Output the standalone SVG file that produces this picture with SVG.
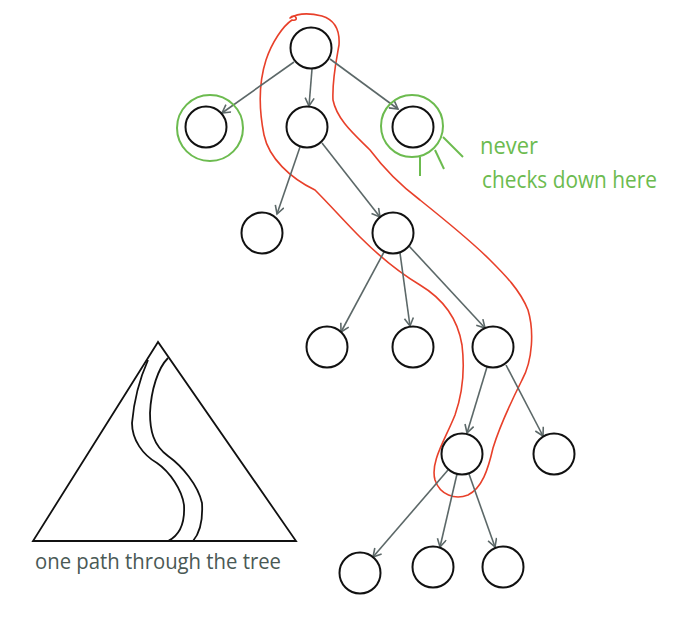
<svg xmlns="http://www.w3.org/2000/svg" width="698" height="618" viewBox="0 0 698 618">
<style>
.node{fill:#fff;stroke:#111;stroke-width:2}
.halo{fill:none;stroke:#6cbb4f;stroke-width:2}
.edge{fill:none;stroke:#5c6868;stroke-width:1.6;marker-end:url(#arr)}
.tick{stroke:#6cbb4f;stroke-width:2}
.red{fill:none;stroke:#e8402a;stroke-width:1.6;stroke-linejoin:round}
.blk{fill:none;stroke:#111;stroke-width:1.8}
.gtxt{font-family:"Open Sans","Liberation Sans",sans-serif;font-size:23px;fill:#6cbb4f}
.dtxt{font-family:"Open Sans","Liberation Sans",sans-serif;font-size:21px;fill:#4a5955}
</style>
<defs>
<marker id="arr" markerUnits="userSpaceOnUse" markerWidth="12" markerHeight="12" refX="9" refY="5" orient="auto">
<path d="M1,0.5 L9,5 L1,9.5" fill="none" stroke="#5c6868" stroke-width="1.6"/>
</marker>
</defs>
<rect width="698" height="618" fill="#fff"/>

<path class="red" d="M290,18 C295,12 300,22 292,20 C283,26 272,42 266,60 C258,85 259,110 264,135 C269,158 290,178 315,190 C330,205 345,222 360,237 C375,252 395,270 420,285 C445,300 458,320 462,345 C465,370 462,395 455,415 C445,440 430,462 435,480 C440,495 455,500 468,495 C482,488 488,470 493,448 C500,425 512,400 522,380 C533,360 534,330 528,310 C520,290 505,275 490,260 C470,240 445,220 420,200 C400,185 385,170 370,150 C355,135 337,120 333,100 C332,80 336,62 339,45 C340,30 335,20 322,16 C310,13 298,13 290,18 Z"/>

<g id="connectors">
<line class="edge" x1="294" y1="62" x2="222" y2="113"/>
<line class="edge" x1="312" y1="69" x2="309" y2="106"/>
<line class="edge" x1="330" y1="59" x2="398" y2="109"/>
<line class="edge" x1="300" y1="147" x2="277" y2="214"/>
<line class="edge" x1="322" y1="143" x2="380" y2="217"/>
<line class="edge" x1="384" y1="252" x2="341" y2="332"/>
<line class="edge" x1="400" y1="253" x2="410" y2="326"/>
<line class="edge" x1="409" y1="246" x2="485" y2="328"/>
<line class="edge" x1="487" y1="367" x2="467" y2="433"/>
<line class="edge" x1="506" y1="365" x2="543" y2="436"/>
<line class="edge" x1="448" y1="470" x2="373" y2="557"/>
<line class="edge" x1="457" y1="474" x2="440" y2="547"/>
<line class="edge" x1="469" y1="474" x2="495" y2="547"/>
</g>

<g id="n-root"><circle class="node" cx="311" cy="48" r="20.5"/></g>
<g id="n-left"><circle class="halo" cx="210" cy="128" r="33"/><circle class="node" cx="206" cy="127" r="20.5"/></g>
<g id="n-mid"><circle class="node" cx="307" cy="127" r="20.5"/></g>
<g id="n-right"><circle class="halo" cx="412" cy="126" r="31"/><circle class="node" cx="413" cy="127" r="20.5"/>
<line class="tick" x1="420" y1="157" x2="420" y2="176"/>
<line class="tick" x1="435" y1="150" x2="444" y2="169"/>
<line class="tick" x1="443" y1="137" x2="463" y2="157"/>
</g>
<g id="n-a"><circle class="node" cx="262" cy="233" r="20.5"/></g>
<g id="n-b"><circle class="node" cx="393" cy="233" r="20.5"/></g>
<g id="n-c"><circle class="node" cx="327" cy="347" r="20.5"/></g>
<g id="n-d"><circle class="node" cx="413" cy="347" r="20.5"/></g>
<g id="n-e"><circle class="node" cx="493" cy="347" r="20.5"/></g>
<g id="n-f"><circle class="node" cx="462" cy="454" r="20.5"/></g>
<g id="n-g"><circle class="node" cx="554" cy="454" r="20.5"/></g>
<g id="n-h"><circle class="node" cx="360" cy="573" r="20.5"/></g>
<g id="n-i"><circle class="node" cx="433" cy="567" r="20.5"/></g>
<g id="n-j"><circle class="node" cx="503" cy="567" r="20.5"/></g>

<g id="note">
<text class="gtxt" x="480" y="154" textLength="58" lengthAdjust="spacingAndGlyphs">never</text>
<text class="gtxt" x="482" y="188" textLength="175" lengthAdjust="spacingAndGlyphs">checks down here</text>
</g>

<g id="triangle">
<path class="blk" d="M158,342 L33,541 L296,541 Z"/>
<path class="blk" d="M148,360 C140,378 134,400 132,423 C132,440 143,455 157,463 C170,472 182,490 184,505 C185,522 180,535 168,541"/>
<path class="blk" d="M168,358 C158,368 151,390 150,413 C150,430 153,445 168,456 C182,466 198,485 202,503 C203,520 200,533 193,541"/>
<text class="dtxt" x="35" y="569" textLength="246" lengthAdjust="spacingAndGlyphs">one path through the tree</text>
</g>
</svg>
